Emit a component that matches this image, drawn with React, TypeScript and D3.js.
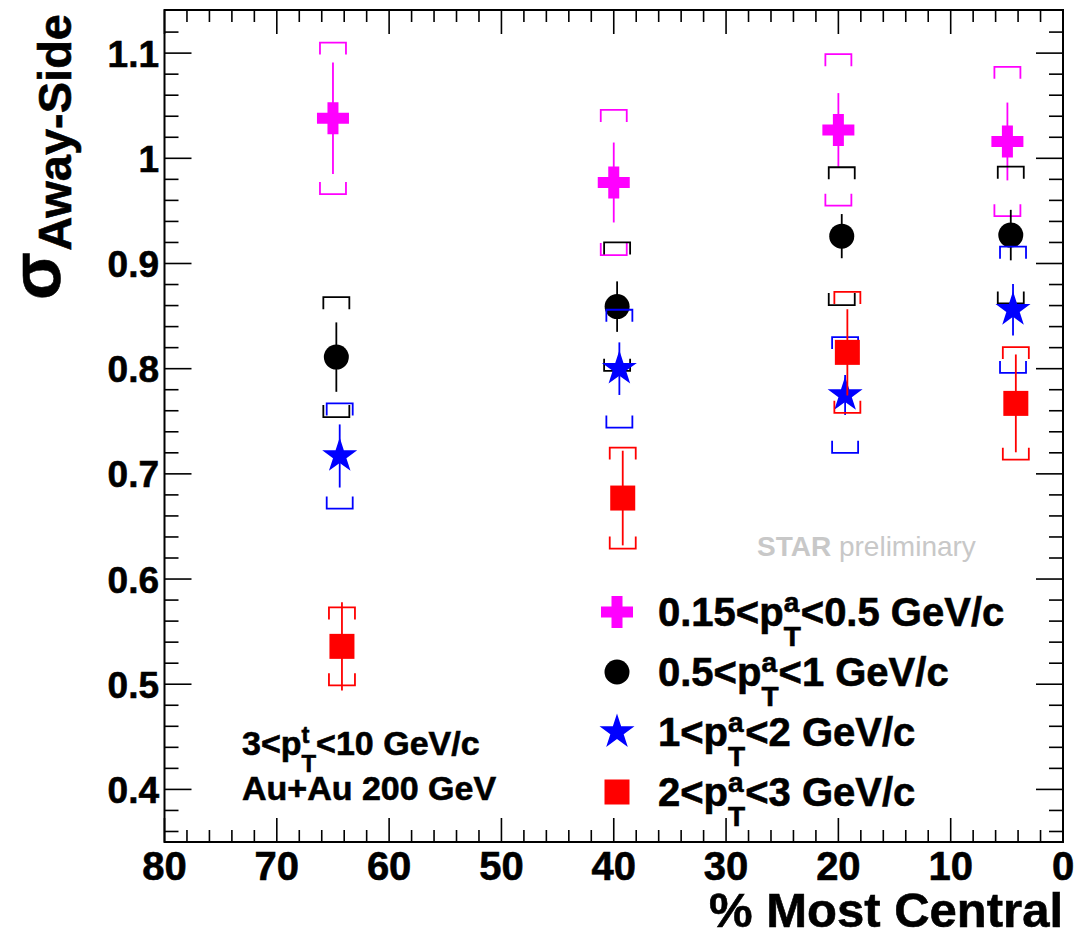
import React from 'react';
import * as d3 from 'd3';

const W = 1076;
const H = 939;
const FONT = '"Liberation Sans", Arial, Helvetica, sans-serif';

// axis ticks
const xTickValues = [80, 70, 60, 50, 40, 30, 20, 10, 0];
const xTickLabels = ['80', '70', '60', '50', '40', '30', '20', '10', '0'];
const yTickValues = [0.4, 0.5, 0.6, 0.7, 0.8, 0.9, 1.0, 1.1];
const yTickLabels = ['0.4', '0.5', '0.6', '0.7', '0.8', '0.9', '1', '1.1'];

// series: 0.15<pT<0.5 (magenta cross)
const centMagenta = [65.0, 40.0, 20.0, 4.95];
const sigmaMagenta = [1.038, 0.977, 1.027, 1.016];
const statMagenta = [0.053, 0.038, 0.035, 0.037];
const sysMagenta = [0.072, 0.069, 0.072, 0.071];

// 0.5<pT<1 (black circle)
const centBlack = [64.7, 39.7, 19.7, 4.65];
const sigmaBlack = [0.811, 0.859, 0.926, 0.927];
const statBlack = [0.033, 0.024, 0.021, 0.024];
const sysBlack = [0.057, 0.061, 0.0655, 0.065];

// 1<pT<2 (blue star)
const centBlue = [64.4, 39.5, 19.4, 4.45];
const sigmaBlue = [0.717, 0.8, 0.775, 0.856];
const statBlue = [0.03, 0.025, 0.019, 0.0245];
const sysBlue = [0.05, 0.056, 0.055, 0.06];

// 2<pT<3 (red square)
const centRed = [64.2, 39.2, 19.2, 4.2];
const sigmaRed = [0.536, 0.677, 0.8155, 0.767];
const statRed = [0.042, 0.045, 0.041, 0.0465];
const sysRed = [0.037, 0.048, 0.0575, 0.0535];

type Marker = 'cross' | 'circle' | 'star' | 'square';

const series = [
  { color: '#ff00ff', marker: 'cross' as Marker, cent: centMagenta, val: sigmaMagenta, stat: statMagenta, sys: sysMagenta, pre: '0.15<p', sup: 'a', sub: 'T', post: '<0.5 GeV/c' },
  { color: '#000000', marker: 'circle' as Marker, cent: centBlack, val: sigmaBlack, stat: statBlack, sys: sysBlack, pre: '0.5<p', sup: 'a', sub: 'T', post: '<1 GeV/c' },
  { color: '#0000ff', marker: 'star' as Marker, cent: centBlue, val: sigmaBlue, stat: statBlue, sys: sysBlue, pre: '1<p', sup: 'a', sub: 'T', post: '<2 GeV/c' },
  { color: '#ff0000', marker: 'square' as Marker, cent: centRed, val: sigmaRed, stat: statRed, sys: sysRed, pre: '2<p', sup: 'a', sub: 'T', post: '<3 GeV/c' },
];

const frame = { left: 164.5, right: 1063, top: 10, bottom: 842 };

const x = d3.scaleLinear().domain([80, 0]).range([frame.left, frame.right]);
const y = d3.scaleLinear().domain([0.35, 1.141]).range([frame.bottom, frame.top]);

const starPath = d3.symbol(d3.symbolStar, 380)() as string;
const crossPath = 'M-16,-5.5H-5.5V-16H5.5V-5.5H16V5.5H5.5V16H-5.5V5.5H-16Z';

const boldStroke = { stroke: '#000', strokeWidth: 0.6 };

function MarkerShape({ type, cx, cy, color }: { type: Marker; cx: number; cy: number; color: string }) {
  if (type === 'circle') return <circle cx={cx} cy={cy} r={12.5} fill={color} />;
  if (type === 'square') return <rect x={cx - 12.5} y={cy - 12.5} width={25} height={25} fill={color} />;
  if (type === 'star') return <path d={starPath} transform={`translate(${cx},${cy})`} fill={color} />;
  return <path d={crossPath} transform={`translate(${cx},${cy})`} fill={color} />;
}

function SubSupText({ x0, y0, fs, pre, sup, sub, post, supW, subW }: any) {
  const s = fs * 0.7;
  const up = fs * 0.36;
  const down = fs * 0.5;
  const extra = Math.max(supW, subW) * s - subW * s;
  return (
    <text x={x0} y={y0} fontSize={fs} fontFamily={FONT} fontWeight="bold" fill="#000" {...boldStroke}>
      <tspan>{pre}</tspan>
      <tspan fontSize={s} dy={-up}>{sup}</tspan>
      <tspan fontSize={s} dx={-supW * s} dy={up + down}>{sub}</tspan>
      <tspan dx={extra} dy={-down}>{post}</tspan>
    </text>
  );
}

export default function App() {
  const xMinor = d3.range(0, 41).map((i) => i * 2).filter((v) => v % 10 !== 0);
  const yMinor = d3.range(18, 57).map((i) => +(i * 0.02).toFixed(2)).filter((v) => Math.round(v * 100) % 10 !== 0);

  const xMajLen = 24, xMinLen = 12, yMajLen = 27, yMinLen = 14;
  const bw = 13, bt = 12;

  const legendX = 617;
  const legendTextX = 658;
  const legendRows = [612, 672, 732, 792];

  return (
    <svg width={W} height={H} style={{ position: 'absolute', left: 0, top: 0, background: '#fff' }}>
      <rect x={0} y={0} width={W} height={H} fill="#fff" />
      {/* ticks */}
      <g stroke="#000" strokeWidth={1.6}>
        {xTickValues.map((v) => (
          <g key={'xt' + v}>
            <line x1={x(v)} x2={x(v)} y1={frame.bottom} y2={frame.bottom - xMajLen} />
            <line x1={x(v)} x2={x(v)} y1={frame.top} y2={frame.top + xMajLen} />
          </g>
        ))}
        {xMinor.map((v) => (
          <g key={'xm' + v}>
            <line x1={x(v)} x2={x(v)} y1={frame.bottom} y2={frame.bottom - xMinLen} />
            <line x1={x(v)} x2={x(v)} y1={frame.top} y2={frame.top + xMinLen} />
          </g>
        ))}
        {yTickValues.map((v) => (
          <g key={'yt' + v}>
            <line x1={frame.left} x2={frame.left + yMajLen} y1={y(v)} y2={y(v)} />
            <line x1={frame.right} x2={frame.right - yMajLen} y1={y(v)} y2={y(v)} />
          </g>
        ))}
        {yMinor.map((v) => (
          <g key={'ym' + v}>
            <line x1={frame.left} x2={frame.left + yMinLen} y1={y(v)} y2={y(v)} />
            <line x1={frame.right} x2={frame.right - yMinLen} y1={y(v)} y2={y(v)} />
          </g>
        ))}
      </g>
      <rect x={frame.left} y={frame.top} width={frame.right - frame.left} height={frame.bottom - frame.top} fill="none" stroke="#000" strokeWidth={2} />

      {/* tick labels */}
      {xTickValues.map((v, i) => (
        <text key={'xl' + v} x={x(v)} y={880} textAnchor="middle" fontSize={40} fontFamily={FONT} fontWeight="bold" {...boldStroke}>{xTickLabels[i]}</text>
      ))}
      {yTickValues.map((v, i) => (
        <text key={'yl' + v} x={159} y={y(v) + 13.5} textAnchor="end" fontSize={37} fontFamily={FONT} fontWeight="bold" {...boldStroke}>{yTickLabels[i]}</text>
      ))}

      {/* axis titles */}
      <text x={1063} y={927} textAnchor="end" fontSize={49} fontFamily={FONT} fontWeight="bold" {...boldStroke}>% Most Central</text>
      <text transform="translate(71,14) rotate(-90)" textAnchor="end" fontSize={47} fontFamily={FONT} fontWeight="bold" {...boldStroke}>Away-Side</text>
      <text transform="translate(60,252) rotate(-90)" textAnchor="end" fontSize={70} fontFamily={FONT} fontWeight="bold" {...boldStroke}>σ</text>

      {/* data */}
      {series.map((s, si) => (
        <g key={'s' + si}>
          {s.cent.map((c, i) => {
            const cx = x(c);
            const yt = y(s.val[i] + s.sys[i]);
            const yb = y(s.val[i] - s.sys[i]);
            return (
              <g key={i} fill="none" stroke={s.color} strokeWidth={1.8}>
                <path d={`M${cx - bw},${yt + bt}V${yt}H${cx + bw}V${yt + bt}`} />
                <path d={`M${cx - bw},${yb - bt}V${yb}H${cx + bw}V${yb - bt}`} />
                <line x1={cx} x2={cx} y1={y(s.val[i] + s.stat[i])} y2={y(s.val[i] - s.stat[i])} />
              </g>
            );
          })}
          {s.cent.map((c, i) => (
            <MarkerShape key={'m' + i} type={s.marker} cx={x(c)} cy={y(s.val[i])} color={s.color} />
          ))}
        </g>
      ))}

      {/* STAR preliminary */}
      <text x={757} y={556} fontSize={28} fontFamily={FONT} fill="#c8c8c8">
        <tspan fontWeight="bold">STAR</tspan>
        <tspan> preliminary</tspan>
      </text>

      {/* legend */}
      {series.map((s, si) => (
        <g key={'lg' + si}>
          <MarkerShape type={s.marker} cx={legendX} cy={legendRows[si]} color={s.color} />
          <SubSupText x0={legendTextX} y0={legendRows[si] + 14} fs={40} pre={s.pre} sup={s.sup} sub={s.sub} post={s.post} supW={0.556} subW={0.611} />
        </g>
      ))}

      {/* annotations */}
      <SubSupText x0={242} y0={755} fs={34} pre="3<p" sup="t" sub="T" post="<10 GeV/c" supW={0.333} subW={0.611} />
      <text x={242} y={800} fontSize={34} fontFamily={FONT} fontWeight="bold" {...boldStroke}>Au+Au 200 GeV</text>
    </svg>
  );
}
